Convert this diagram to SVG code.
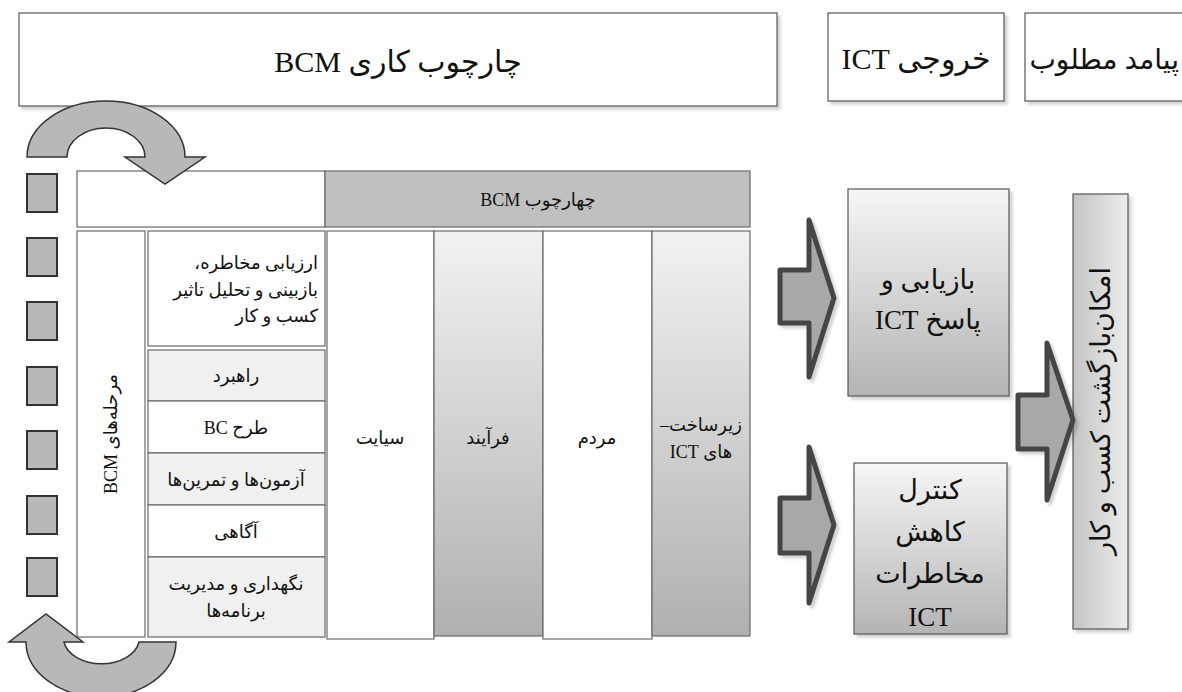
<svg xmlns="http://www.w3.org/2000/svg" width="1182" height="692" viewBox="0 0 1182 692">
<defs>
<linearGradient id="gv" x1="0" y1="0" x2="0" y2="1"><stop offset="0" stop-color="#f2f2f2"/><stop offset="1" stop-color="#b0b0b0"/></linearGradient>
<linearGradient id="gb" x1="0" y1="0" x2="0" y2="1"><stop offset="0" stop-color="#f6f6f6"/><stop offset="1" stop-color="#b4b4b4"/></linearGradient>
<linearGradient id="gh" x1="0" y1="0" x2="1" y2="0"><stop offset="0" stop-color="#c4c4c4"/><stop offset="1" stop-color="#ededed"/></linearGradient>
<filter id="sh" x="-10%" y="-10%" width="130%" height="130%"><feDropShadow dx="3" dy="3" stdDeviation="1.5" flood-color="#000" flood-opacity="0.18"/></filter>
</defs>
<style>
text{font-family:"Liberation Serif","DejaVu Sans",serif;fill:#111;text-anchor:middle;direction:rtl;unicode-bidi:embed}
.box{fill:#fff;stroke:#555;stroke-width:1.2}
.cell{stroke:#6a6a6a;stroke-width:1.2}
.sq{fill:#b8b8b8;stroke:#333;stroke-width:2}
.curv{fill:#b8b8b8;stroke:#333;stroke-width:1.5}
.bar{fill:#a8a8a8;stroke:#444;stroke-width:5;stroke-linejoin:round}
.t30{font-size:30px}
.t18{font-size:18px}
.t26{font-size:27px}
.ra{text-anchor:start}
</style>
<rect width="1182" height="692" fill="#fff"/>

<g id="top-framework"><rect class="box" x="19" y="13" width="758" height="93" filter="url(#sh)"/><text class="t30" x="398" y="72">چارچوب کاری BCM</text></g>
<g id="top-ict-output"><rect class="box" x="828" y="13" width="176" height="88" filter="url(#sh)"/><text class="t30" x="916" y="69">خروجی ICT</text></g>
<g id="top-outcome"><rect class="box" x="1025" y="13" width="170" height="88" filter="url(#sh)"/><text class="t30 ra" x="1179" y="69" style="font-size:28px">پیامد مطلوب</text></g>

<g id="squares">
<rect class="sq" x="27" y="174" width="30" height="38"/>
<rect class="sq" x="27" y="238" width="30" height="38"/>
<rect class="sq" x="27" y="302" width="30" height="38"/>
<rect class="sq" x="27" y="367" width="30" height="38"/>
<rect class="sq" x="27" y="431" width="30" height="38"/>
<rect class="sq" x="27" y="496" width="30" height="38"/>
<rect class="sq" x="27" y="558" width="30" height="38"/>
</g>

<g id="table">
<rect class="cell" x="77" y="171" width="248" height="56" fill="#fff"/>
<rect class="cell" x="325" y="171" width="425" height="56" fill="#c0c0c0"/>
<text class="t18" x="538" y="206">چهارچوب BCM</text>

<rect class="cell" x="77" y="231" width="68" height="406" fill="#fff"/>
<text class="t18" transform="translate(117 434) rotate(-90)">مرحله‌های BCM</text>

<rect class="cell" x="148" y="231" width="177" height="115" fill="#fff"/>
<text class="t18 ra" x="318" y="269">ارزیابی مخاطره،</text>
<text class="t18 ra" x="318" y="296">بازبینی و تحلیل تاثیر</text>
<text class="t18 ra" x="318" y="322">کسب و کار</text>
<rect class="cell" x="148" y="350" width="177" height="51" fill="#f0f0f0"/>
<text class="t18" x="236" y="382">راهبرد</text>
<rect class="cell" x="148" y="401" width="177" height="52" fill="#fff"/>
<text class="t18" x="236" y="434">طرح BC</text>
<rect class="cell" x="148" y="453" width="177" height="52" fill="#f0f0f0"/>
<text class="t18" x="236" y="486">آزمون‌ها و تمرین‌ها</text>
<rect class="cell" x="148" y="505" width="177" height="52" fill="#fff"/>
<text class="t18" x="236" y="538">آگاهی</text>
<rect class="cell" x="148" y="557" width="177" height="80" fill="#f0f0f0"/>
<text class="t18" x="236" y="590">نگهداری و مدیریت</text>
<text class="t18" x="236" y="617">برنامه‌ها</text>

<rect class="cell" x="327" y="231" width="107" height="408" fill="#fff"/>
<text class="t18" x="380" y="444">سیایت</text>
<rect class="cell" x="434" y="231" width="109" height="405" fill="url(#gv)"/>
<text class="t18" x="488" y="444">فرآیند</text>
<rect class="cell" x="543" y="231" width="109" height="408" fill="#fff"/>
<text class="t18" x="597" y="444">مردم</text>
<rect class="cell" x="652" y="231" width="98" height="405" fill="url(#gv)"/>
<text class="t18" x="701" y="431">زیرساخت–</text>
<text class="t18" x="701" y="458">های ICT</text>
</g>

<g id="recovery-box"><rect x="848" y="189" width="161" height="207" fill="url(#gb)" stroke="#555" stroke-width="1.2" filter="url(#sh)"/>
<text class="t26" x="928" y="289">بازیابی و</text><text class="t26" x="928" y="329">پاسخ ICT</text></g>
<g id="control-box"><rect x="854" y="463" width="153" height="171" fill="url(#gb)" stroke="#555" stroke-width="1.2" filter="url(#sh)"/>
<text class="t26" x="930" y="499">کنترل</text><text class="t26" x="930" y="541">کاهش</text><text class="t26" x="930" y="583">مخاطرات</text><text class="t26" x="930" y="626">ICT</text></g>
<g id="business-box"><rect x="1073" y="194" width="55" height="435" fill="url(#gh)" stroke="#555" stroke-width="1.2" filter="url(#sh)"/>
<text class="t26" transform="translate(1110 411) rotate(-90)">امکان‌بازگشت کسب و کار</text></g>

<g id="connectors">
<path class="curv" d="M27 157 A79 56 0 0 1 185 157 L205 157 L165 184 L125 157 L145 157 A39 29 0 0 0 67 157 Z"/>
<path class="curv" d="M176 642 A75 55 0 0 1 26 642 L9 642 L46 614 L83 642 L64 642 A38 26 0 0 0 139 642 Z"/>
<path class="bar" filter="url(#sh)" d="M780 270 L809 270 L809 220 L834 298 L809 377 L809 323 L780 323 Z"/>
<path class="bar" filter="url(#sh)" d="M780 498 L809 498 L809 447 L834 525 L809 603 L809 553 L780 553 Z"/>
<path class="bar" filter="url(#sh)" d="M1018 395 L1047 395 L1047 343 L1073 420 L1047 500 L1047 449 L1018 449 Z"/>
</g>
</svg>
